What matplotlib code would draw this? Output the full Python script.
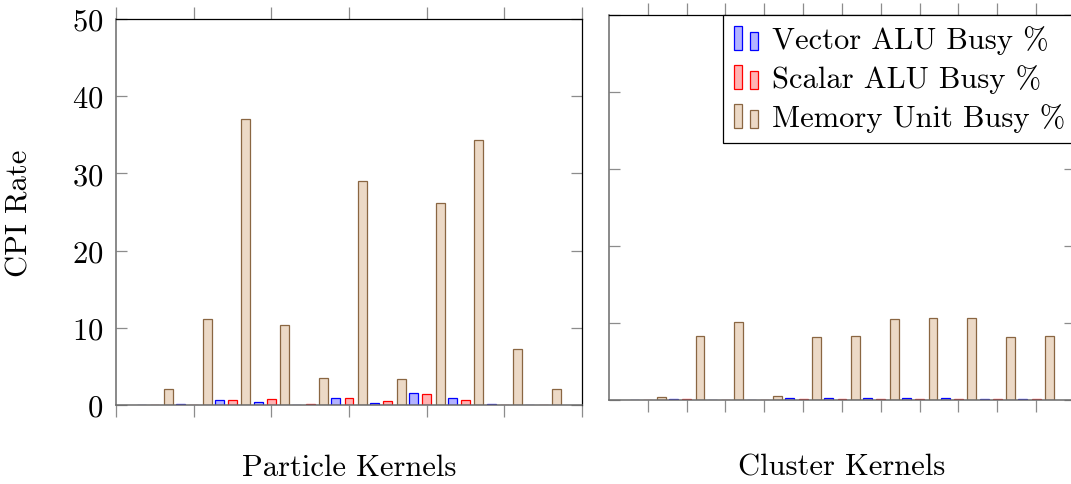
"""Busy-% per kernel for the particle and cluster passes, pgfplots-style ybar."""

import matplotlib

matplotlib.use("Agg")
import matplotlib.pyplot as plt
from matplotlib.legend_handler import HandlerBase
from matplotlib.patches import Rectangle

# kernel index (1..11) in each pass
KERNELS = list(range(1, 12))

# Particle kernels
VEC_P = [0.05, 0.1, 0.6, 0.35, 0.05, 0.85, 0.2, 1.55, 0.9, 0.1, 0.05]
SCA_P = [0.05, 0.05, 0.6, 0.75, 0.15, 0.85, 0.5, 1.4, 0.7, 0.05, 0.05]
MEM_P = [2.1, 11.2, 37.0, 10.3, 3.5, 29.0, 3.4, 26.1, 34.3, 7.2, 2.1]

# Cluster kernels
VEC_C = [0.05, 0.2, 0.1, 0.05, 0.25, 0.25, 0.25, 0.25, 0.25, 0.2, 0.2]
SCA_C = [0.05, 0.2, 0.1, 0.05, 0.2, 0.2, 0.2, 0.2, 0.2, 0.2, 0.2]
MEM_C = [0.4, 8.3, 10.1, 0.5, 8.2, 8.3, 10.5, 10.7, 10.7, 8.2, 8.3]

SERIES = ["Vector ALU Busy %", "Scalar ALU Busy %", "Memory Unit Busy %"]
YTICKS = [0, 10, 20, 30, 40, 50]

EDGE = ["#0000ff", "#ff0000", "#8a6642"]
FILL = ["#b3b3ff", "#ffb3b3", "#ecd9c6"]
SHIFT = [-0.34, 0.0, 0.345]
WIDTH = 0.23
TICK_C = "#8c8c8c"
AXIS_C = "#6a6a6a"

plt.rcParams.update({
    "font.family": ["cmr10", "DejaVu Serif"],
    "mathtext.fontset": "cm",
    "axes.formatter.use_mathtext": True,
    "font.size": 22,
})


class TwoBars(HandlerBase):
    """pgfplots ybar legend image: two little bars, the second shorter."""

    def create_artists(self, legend, orig_handle, xdescent, ydescent,
                       width, height, fontsize, trans):
        fc = orig_handle.get_facecolor()
        ec = orig_handle.get_edgecolor()
        bw = width * 0.33
        x0, y0 = -xdescent, -ydescent
        r1 = Rectangle((x0, y0), bw, height, facecolor=fc, edgecolor=ec,
                       lw=0.9, transform=trans)
        r2 = Rectangle((x0 + width - bw, y0), bw, height * 0.76, facecolor=fc,
                       edgecolor=ec, lw=0.9, transform=trans)
        return [r1, r2]


def _panel(ax, series, xticks, xlabel):
    handles = []
    for vals, sh, ec, fc in zip(series, SHIFT, EDGE, FILL):
        b = ax.bar([k + sh for k in KERNELS], vals, WIDTH, facecolor=fc,
                   edgecolor=ec, linewidth=0.9, zorder=2)
        handles.append(b.patches[0])
    ax.set_xlim(0, 12)
    ax.set_ylim(0, 50)
    ax.set_yticks(YTICKS)
    ax.set_xticks(xticks)
    ax.tick_params(axis="x", direction="out", length=8.5, width=0.9,
                   color=TICK_C, top=True, bottom=True,
                   labelbottom=False)
    ax.tick_params(axis="y", direction="in", length=8, width=0.9,
                   color=TICK_C, left=True, right=True, pad=9)
    for side in ("top", "right"):
        ax.spines[side].set_color("black")
        ax.spines[side].set_linewidth(0.9)
    for side in ("left", "bottom"):
        ax.spines[side].set_color(AXIS_C)
        ax.spines[side].set_linewidth(1.1)
    ax.set_xlabel(xlabel)
    return handles


def main():
    fig = plt.figure(figsize=(10.71, 4.85), dpi=100)
    ax1 = fig.add_axes([0.1083, 0.1629, 0.4351, 0.7959])
    ax2 = fig.add_axes([0.5686, 0.1726, 0.4351, 0.795])

    _panel(ax1, [VEC_P, SCA_P, MEM_P], [0, 2, 4, 6, 8, 10, 12], "Particle Kernels")
    ax1.set_ylabel("CPI Rate")
    ax1.xaxis.set_label_coords(0.5, -0.125)
    ax1.yaxis.set_label_coords(-0.176, 0.5)

    handles = _panel(ax2, [VEC_C, SCA_C, MEM_C], KERNELS, "Cluster Kernels")
    ax2.tick_params(axis="y", labelleft=False)
    ax2.xaxis.set_label_coords(0.5, -0.136)

    leg = ax2.legend(handles, SERIES, handler_map={Rectangle: TwoBars()},
                     loc="upper left", bbox_to_anchor=(0.2446, 1.0),
                     borderaxespad=0, fancybox=False, edgecolor="black",
                     framealpha=1, handlelength=0.8, handleheight=0.82,
                     handletextpad=0.45, labelspacing=0.33, borderpad=0.35)
    leg.get_frame().set_linewidth(0.9)
    leg.set_zorder(5)

    fig.savefig("out.png", dpi=100)


if __name__ == "__main__":
    main()
